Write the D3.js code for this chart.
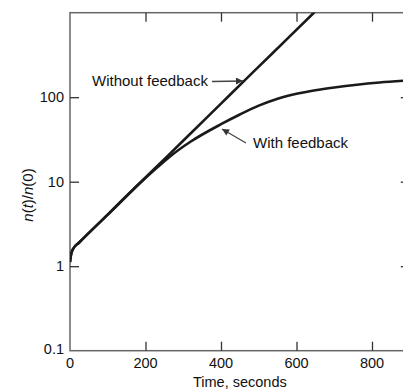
<!DOCTYPE html>
<html>
<head>
<meta charset="utf-8">
<script src="https://cdn.jsdelivr.net/npm/d3@7"></script>
<style>
  html, body { margin: 0; padding: 0; background: #fff; }
  svg { display: block; }
  text { font-family: "Liberation Sans", Arial, Helvetica, sans-serif; fill: #111; }
</style>
</head>
<body>
<svg id="chart" width="403" height="390"></svg>
<script>
// ---- data ----
const timeWithout   = [0, 3, 8, 25, 100, 177, 265, 318, 400, 458, 500, 574, 646, 670];
const valueWithout  = [1.12, 1.38, 1.6, 1.92, 4.08, 8.9, 21.5, 36.7, 83.9, 150.7, 230, 484, 1000, 1274];
const timeWith      = [0, 3, 8, 25, 100, 177, 230, 265, 318, 400, 450, 500, 550, 600, 650, 700, 760, 820, 900];
const valueWith     = [1.12, 1.38, 1.6, 1.92, 4.08, 8.9, 14.6, 19.9, 29.5, 47.9, 62.4, 79.4, 95.9, 109.6, 120.8, 130.3, 140.6, 149.3, 158.5];
const xTicks = [0, 200, 400, 600, 800];
const yTicks = [0.1, 1, 10, 100];
const yTickLabels = ["0.1", "1", "10", "100"];
const seriesLabels = ["Without feedback", "With feedback"];

const svg = d3.select("#chart");
const mLeft = 70, mRight = 409.75, mTop = 12.7, mBottom = 350.7;

const x = d3.scaleLinear().domain([0, 900]).range([mLeft, mRight]);
const y = d3.scaleLog().domain([0.1, 1000]).range([mBottom, mTop]);

// defs: clip + arrow marker
const defs = svg.append("defs");
defs.append("clipPath").attr("id", "plotclip")
  .append("rect").attr("x", mLeft).attr("y", mTop)
  .attr("width", mRight - mLeft).attr("height", mBottom - mTop);
defs.append("marker").attr("id", "arrow")
  .attr("viewBox", "0 0 10 10").attr("refX", 10).attr("refY", 5)
  .attr("markerWidth", 10).attr("markerHeight", 7).attr("markerUnits", "userSpaceOnUse")
  .attr("orient", "auto")
  .append("path").attr("d", "M0,0 L10,5 L0,10 Z").attr("fill", "#333");

// frame
const frameColor = "#666";
svg.append("rect").attr("x", mLeft).attr("y", mTop)
  .attr("width", mRight - mLeft).attr("height", mBottom - mTop)
  .attr("fill", "none").attr("stroke", frameColor).attr("stroke-width", 1.5);

// axes with inward ticks
const tickLen = 9;
const xBottom = svg.append("g").attr("transform", `translate(0,${mBottom})`)
  .call(d3.axisBottom(x).tickValues(xTicks.filter(d => d > 0)).tickSizeInner(-tickLen).tickSizeOuter(0).tickFormat(""));
const xTop = svg.append("g").attr("transform", `translate(0,${mTop})`)
  .call(d3.axisTop(x).tickValues(xTicks.filter(d => d > 0)).tickSizeInner(-tickLen).tickSizeOuter(0).tickFormat(""));
const yLeft = svg.append("g").attr("transform", `translate(${mLeft},0)`)
  .call(d3.axisLeft(y).tickValues(yTicks.slice(1)).tickSizeInner(-tickLen).tickSizeOuter(0).tickFormat(""));
const yRight = svg.append("g").attr("transform", `translate(${mRight},0)`)
  .call(d3.axisRight(y).tickValues(yTicks.slice(1)).tickSizeInner(-tickLen).tickSizeOuter(0).tickFormat(""));
[xBottom, xTop, yLeft, yRight].forEach(g => {
  g.select(".domain").remove();
  g.selectAll(".tick line").attr("stroke", "#333").attr("stroke-width", 1.3);
});

// tick labels
svg.append("g").selectAll("text").data(xTicks).join("text")
  .attr("x", d => x(d)).attr("y", 368)
  .attr("text-anchor", "middle").attr("font-size", 14.5)
  .text(d => d);
svg.append("g").selectAll("text").data(yTicks).join("text")
  .attr("x", 64).attr("y", d => y(d))
  .attr("dy", (d, i) => i === 0 ? "0.2em" : "0.35em")
  .attr("text-anchor", "end").attr("font-size", 14.5)
  .text((d, i) => yTickLabels[i]);

// axis titles
svg.append("text").attr("x", (mLeft + mRight) / 2).attr("y", 387)
  .attr("text-anchor", "middle").attr("font-size", 14.5)
  .text("Time, seconds");
const yt = svg.append("text")
  .attr("transform", "translate(33,195) rotate(-90)")
  .attr("text-anchor", "middle").attr("font-size", 15);
yt.append("tspan").attr("font-style", "italic").text("n");
yt.append("tspan").text("(");
yt.append("tspan").attr("font-style", "italic").text("t");
yt.append("tspan").text(")/");
yt.append("tspan").attr("font-style", "italic").text("n");
yt.append("tspan").text("(0)");

// curves
const line = d3.line().x(d => x(d[0])).y(d => y(d[1])).curve(d3.curveMonotoneX);
const plot = svg.append("g").attr("clip-path", "url(#plotclip)");
plot.append("path").datum(d3.zip(timeWithout, valueWithout))
  .attr("d", line).attr("fill", "none").attr("stroke", "#1a1a1a").attr("stroke-width", 2.6);
plot.append("path").datum(d3.zip(timeWith, valueWith))
  .attr("d", line).attr("fill", "none").attr("stroke", "#1a1a1a").attr("stroke-width", 2.6);

// annotations
svg.append("text").attr("x", 92).attr("y", 86).attr("font-size", 15).text(seriesLabels[0]);
svg.append("line").attr("x1", 212).attr("y1", 81.5).attr("x2", 243).attr("y2", 81)
  .attr("stroke", "#444").attr("stroke-width", 1.3).attr("marker-end", "url(#arrow)");
svg.append("text").attr("x", 253).attr("y", 148).attr("font-size", 15).text(seriesLabels[1]);
svg.append("line").attr("x1", 246).attr("y1", 143).attr("x2", 222).attr("y2", 129)
  .attr("stroke", "#444").attr("stroke-width", 1.3).attr("marker-end", "url(#arrow)");
</script>
</body>
</html>
